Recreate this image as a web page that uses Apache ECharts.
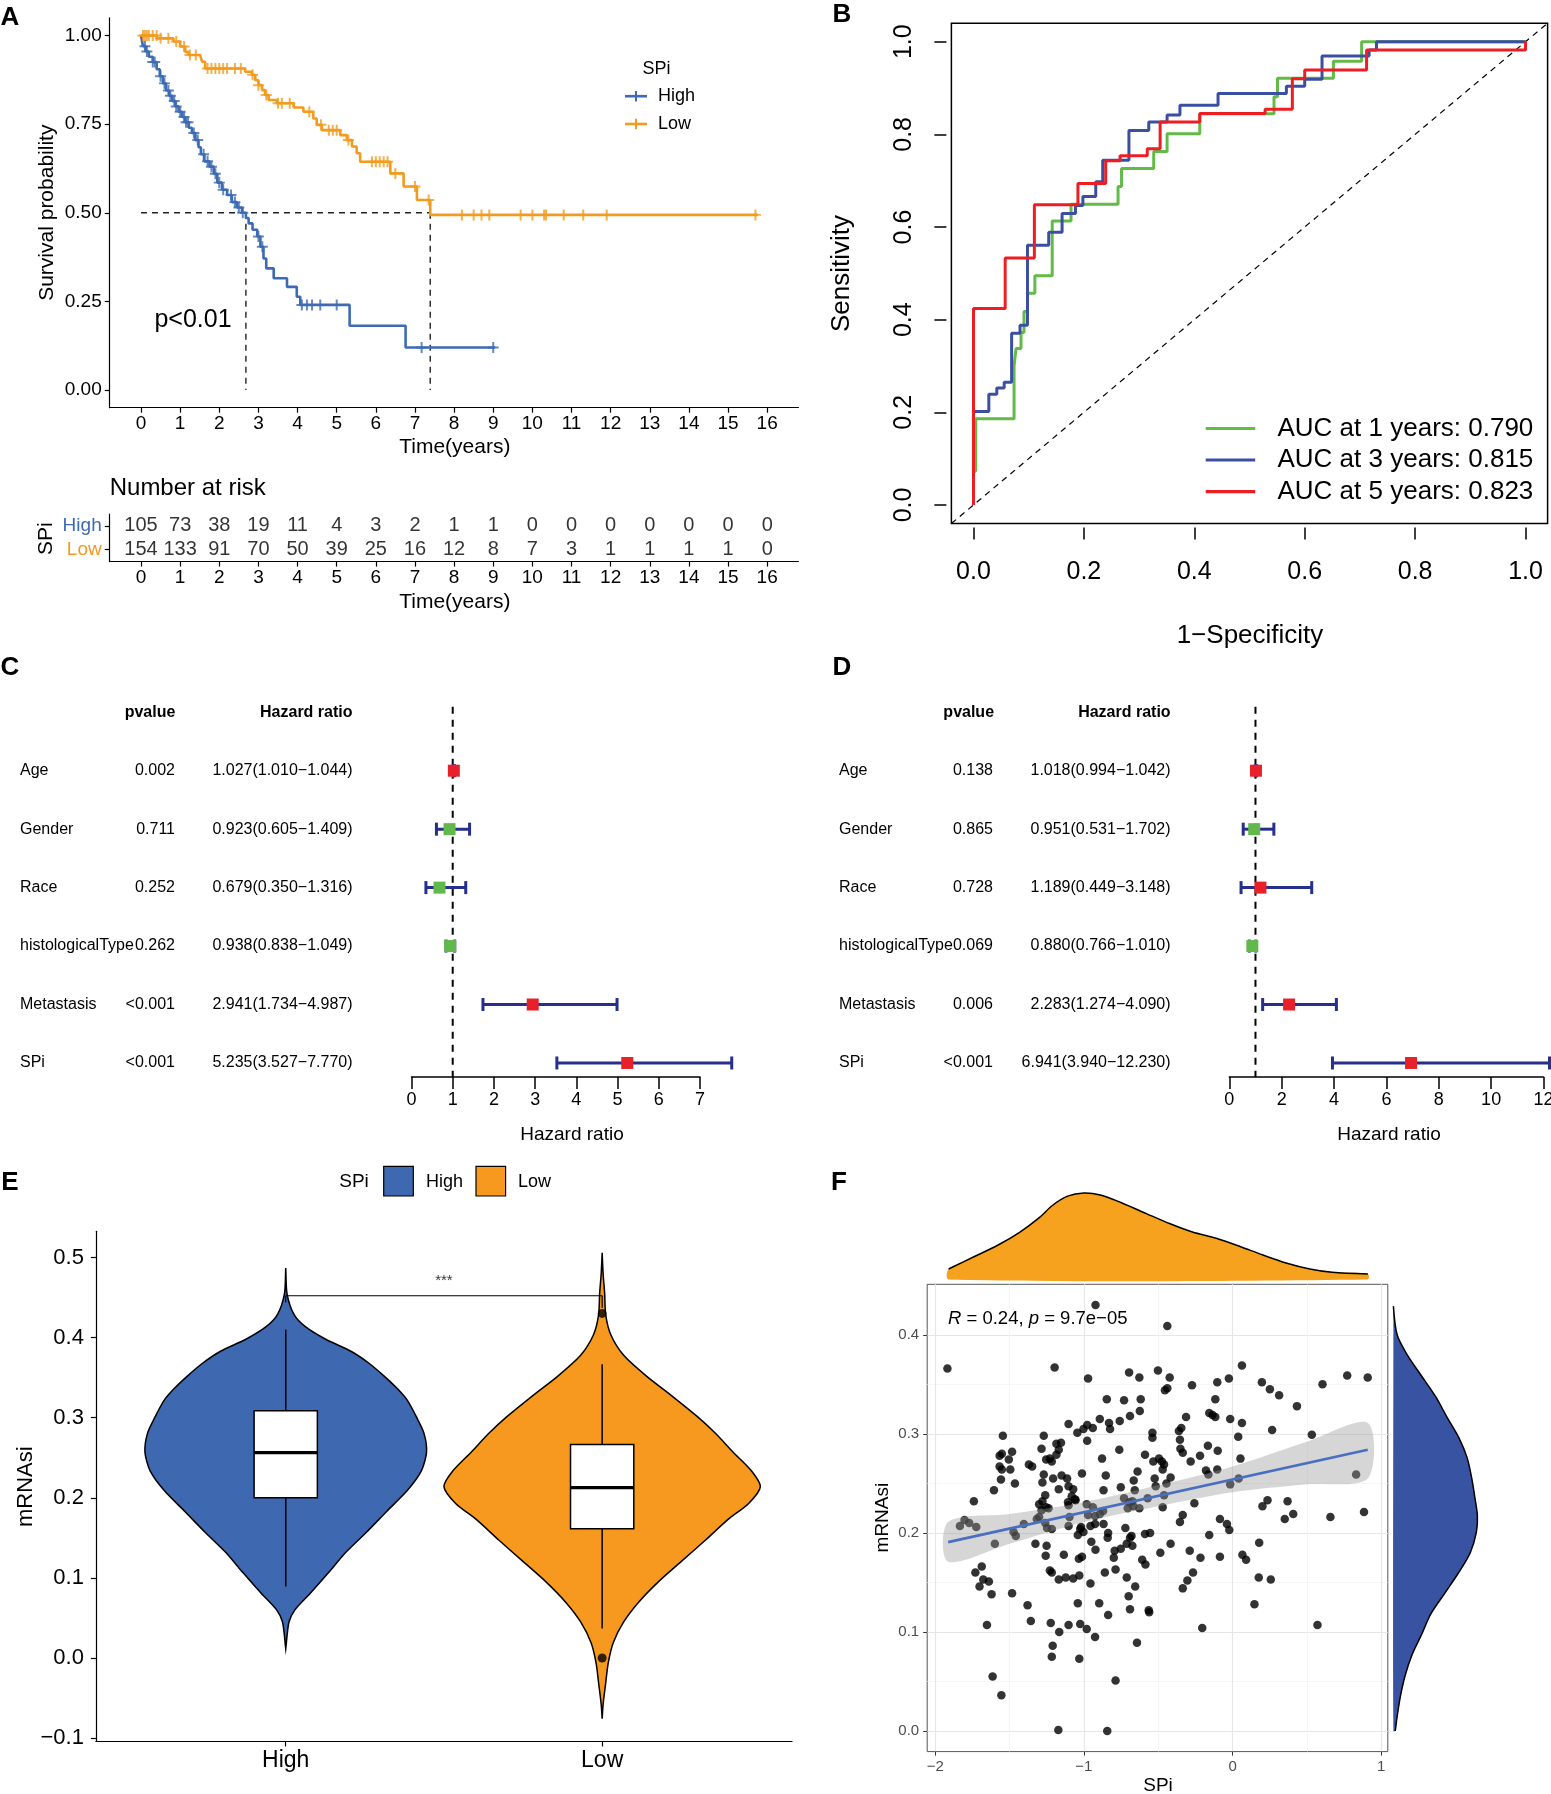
<!DOCTYPE html>
<html>
<head>
<meta charset="utf-8">
<title>SPi figure</title>
<script src="https://cdn.jsdelivr.net/npm/echarts@6/dist/echarts.min.js"></script>
<style>
html, body { margin: 0; padding: 0; background: #fff; }
#fig { width: 1551px; height: 1794px; }
</style>
</head>
<body>
<div id="fig"></div>
<script>
var FONT = '"Liberation Sans", Arial, Helvetica, sans-serif';
var BLUE = '#3D6BB3', ORANGE = '#F39B1F';
var NAVY = '#262F8C', RED = '#E8202A', GREEN = '#62B84A';
var PLUS = 'path://M0,4.1H10V5.9H0ZM4.1,0H5.9V10H4.1Z';

// ---- A: Kaplan-Meier ----
var kmHighT = [0, 0.05, 0.12, 0.2, 0.3, 0.4, 0.48, 0.56, 0.64, 0.72, 0.8, 0.88, 0.96, 1.05, 1.13, 1.22, 1.3, 1.39, 1.47, 1.53, 1.62, 1.75, 1.86, 1.95, 2.07, 2.2, 2.32, 2.45, 2.58, 2.68, 2.75, 2.85, 2.97, 3.05, 3.13, 3.2, 3.39, 3.73, 3.98, 4.07, 5.33, 6.76, 9.05];
var kmHighS = [1, 0.97, 0.955, 0.94, 0.925, 0.905, 0.885, 0.865, 0.845, 0.83, 0.815, 0.8, 0.785, 0.77, 0.755, 0.74, 0.725, 0.705, 0.685, 0.665, 0.645, 0.63, 0.61, 0.585, 0.565, 0.55, 0.53, 0.515, 0.5, 0.485, 0.47, 0.452, 0.433, 0.404, 0.371, 0.343, 0.315, 0.291, 0.263, 0.24, 0.181, 0.12, 0.12];
var kmLowT = [0, 0.41, 0.83, 1.0, 1.13, 1.21, 1.51, 1.56, 1.64, 2.66, 2.83, 2.92, 3.0, 3.09, 3.17, 3.26, 3.47, 3.9, 4.15, 4.4, 4.49, 4.62, 5.09, 5.26, 5.39, 5.51, 5.6, 6.37, 6.71, 7.05, 7.39, 15.76];
var kmLowS = [1, 0.992, 0.983, 0.969, 0.954, 0.945, 0.94, 0.926, 0.907, 0.898, 0.889, 0.874, 0.86, 0.846, 0.832, 0.818, 0.809, 0.797, 0.785, 0.766, 0.748, 0.733, 0.719, 0.705, 0.687, 0.668, 0.644, 0.611, 0.574, 0.536, 0.494, 0.494];
var censorHigh = [0.1, 0.15, 0.3, 0.35, 0.5, 0.6, 0.7, 0.75, 0.85, 0.9, 1.0, 1.1, 1.15, 1.2, 1.35, 1.45, 1.6, 1.7, 1.8, 1.9, 2.0, 2.1, 2.3, 2.4, 2.5, 2.6, 3.0, 3.1, 4.11, 4.24, 4.37, 4.58, 5.0, 7.17, 9.0];
var censorLow = [0.05, 0.1, 0.15, 0.2, 0.3, 0.4, 0.5, 0.7, 0.9, 1.1, 1.25, 1.4, 1.7, 1.8, 1.9, 2.0, 2.1, 2.2, 2.4, 2.55, 2.85, 3.0, 3.2, 3.5, 3.6, 3.8, 4.3, 4.6, 4.8, 4.9, 5.0, 5.3, 5.9, 6.0, 6.1, 6.2, 6.3, 6.5, 7.0, 7.35, 8.2, 8.5, 8.7, 8.9, 9.7, 10.0, 10.3, 10.35, 10.8, 11.3, 11.9, 15.7];
var medianHigh = 2.68, medianLow = 7.39;
var kmTicks = [0, 1, 2, 3, 4, 5, 6, 7, 8, 9, 10, 11, 12, 13, 14, 15, 16];
var survTicks = [0, 0.25, 0.5, 0.75, 1];
var riskHigh = [105, 73, 38, 19, 11, 4, 3, 2, 1, 1, 0, 0, 0, 0, 0, 0, 0];
var riskLow = [154, 133, 91, 70, 50, 39, 25, 16, 12, 8, 7, 3, 1, 1, 1, 1, 0];

// ---- B: time-dependent ROC ----
var roc1Fpr = [0, 0, 0.004, 0.0735, 0.0771, 0.0861, 0.0915, 0.0978, 0.1112, 0.1426, 0.1767, 0.2619, 0.2682, 0.3265, 0.3507, 0.4099, 0.5444, 0.5507, 0.652, 0.7031, 1.0];
var roc1Tpr = [0, 0.073, 0.186, 0.2997, 0.3379, 0.3724, 0.4178, 0.4569, 0.495, 0.6131, 0.6494, 0.6876, 0.7266, 0.763, 0.8011, 0.8447, 0.881, 0.921, 0.958, 1.0, 1.0];
var roc3Fpr = [0, 0, 0.0278, 0.0422, 0.0556, 0.0691, 0.0843, 0.0978, 0.1363, 0.1605, 0.1848, 0.1982, 0.2215, 0.2341, 0.2816, 0.3175, 0.3507, 0.374, 0.443, 0.5668, 0.6, 0.6314, 0.7166, 0.73, 1.0];
var roc3Tpr = [0, 0.2016, 0.2389, 0.2525, 0.265, 0.3706, 0.3878, 0.5604, 0.5886, 0.6294, 0.6467, 0.6658, 0.6975, 0.7439, 0.8084, 0.8265, 0.842, 0.8629, 0.8883, 0.9037, 0.9192, 0.9691, 0.982, 1.0, 1.0];
var roc5Fpr = [0, 0, 0.0574, 0.1103, 0.1892, 0.2395, 0.2655, 0.3148, 0.3381, 0.4099, 0.5283, 0.5776, 0.6, 0.7121, 1.0];
var roc5Tpr = [0, 0.424, 0.533, 0.648, 0.694, 0.743, 0.754, 0.769, 0.8265, 0.845, 0.854, 0.92, 0.939, 0.982, 1.0];
var rocTicks = [0, 0.2, 0.4, 0.6, 0.8, 1.0];
var rocLegend = ['AUC at 1 years: 0.790', 'AUC at 3 years: 0.815', 'AUC at 5 years: 0.823'];

// ---- C / D: Cox forest plots ----
var forestVars = ['Age', 'Gender', 'Race', 'histologicalType', 'Metastasis', 'SPi'];
var uniP = ['0.002', '0.711', '0.252', '0.262', '<0.001', '<0.001'];
var uniHR = [1.027, 0.923, 0.679, 0.938, 2.941, 5.235];
var uniLo = [1.010, 0.605, 0.350, 0.838, 1.734, 3.527];
var uniHi = [1.044, 1.409, 1.316, 1.049, 4.987, 7.770];
var multiP = ['0.138', '0.865', '0.728', '0.069', '0.006', '<0.001'];
var multiHR = [1.018, 0.951, 1.189, 0.880, 2.283, 6.941];
var multiLo = [0.994, 0.531, 0.449, 0.766, 1.274, 3.940];
var multiHi = [1.042, 1.702, 3.148, 1.010, 4.090, 12.230];

// ---- E: violin ----
var violinHighY = [0.487, 0.455, 0.429, 0.414, 0.398, 0.383, 0.368, 0.352, 0.337, 0.322, 0.301, 0.2805, 0.257, 0.234, 0.209, 0.183, 0.157, 0.132, 0.106, 0.0805, 0.060, 0.0446, 0.0113];
var violinHighW = [0, 0.004, 0.026, 0.061, 0.126, 0.206, 0.263, 0.311, 0.351, 0.384, 0.413, 0.437, 0.445, 0.429, 0.384, 0.319, 0.255, 0.19, 0.134, 0.077, 0.029, 0.01, 0];
var violinLowY = [0.506, 0.480, 0.455, 0.429, 0.404, 0.378, 0.352, 0.327, 0.301, 0.2805, 0.257, 0.234, 0.214, 0.193, 0.173, 0.147, 0.1215, 0.096, 0.070, 0.045, 0.019, -0.0067, -0.032, -0.058, -0.076];
var violinLowW = [0, 0.003, 0.008, 0.011, 0.027, 0.068, 0.14, 0.221, 0.302, 0.358, 0.414, 0.471, 0.5, 0.463, 0.398, 0.326, 0.253, 0.18, 0.116, 0.068, 0.035, 0.019, 0.011, 0.003, 0];
var boxHigh = [0.0892, 0.2, 0.2564, 0.3087, 0.41];
var boxLow = [0.0369, 0.1615, 0.2128, 0.2667, 0.3667];
var outlierLow = [0.4303, 0.0];
var mrnaTicks = [-0.1, 0, 0.1, 0.2, 0.3, 0.4, 0.5];

// ---- F: scatter with marginal densities ----
var spiX = [-1.918, -0.922, -0.439, -1.197, -0.972, -0.696, -0.627, -0.502, -0.423, -0.439, -0.455, -0.273, -0.103, -0.025, 0.063, 0.197, 0.251, 0.313, 0.433, 0.605, 0.771, 0.909, -0.846, -0.73, -0.618, -0.116, -0.624, -0.69, -0.759, -0.831, -0.824, -0.893, -0.94, -0.978, -1.003, -1.044, -0.978, -1.103, -0.313, -0.157, -0.135, -0.116, -0.016, 0.063, 0.266, 0.533, 0.038, -0.539, -0.539, -0.361, -0.345, -0.354, -0.351, -0.335, -0.166, -0.1, -0.219, -0.282, 0.053, -0.589, -0.762, -0.878, -0.495, -0.461, -0.47, -0.476, -0.533, -0.639, -0.417, -0.524, -0.517, -0.445, -0.461, -0.47, -0.571, -0.665, -0.658, -0.853, -0.868, -1.013, -1.103, -1.072, -1.06, -1.082, -1.113, -1.15, -1.207, -1.169, -1.27, -1.279, -1.26, -1.279, -1.301, -1.254, -1.238, -1.285, -1.301, -1.317, -1.248, -1.216, -1.26, -1.216, -1.254, -1.185, -1.169, -1.154, -1.185, -1.285, -1.27, -1.229, -1.348, -1.37, -1.567, -1.552, -1.483, -1.505, -1.495, -1.567, -1.552, -1.558, -1.464, -1.545, -1.605, -1.74, -1.803, -1.834, -1.771, -1.724, -1.404, -1.473, -1.458, -1.599, -1.326, -1.251, -1.257, -1.135, -1.73, -1.687, -1.677, -1.639, -1.702, -1.621, -1.483, -1.652, -1.379, -1.357, -1.229, -1.216, -1.122, -1.169, -1.072, -1.031, -1.223, -1.166, -1.21, -1.216, -1.103, -1.025, -0.981, -1.041, -1.031, -1.614, -1.555, -1.172, -0.843, -0.787, -0.925, -0.837, -0.897, -0.956, -0.859, -0.787, -0.69, -0.699, -0.712, -0.655, -0.643, -0.564, -0.561, -0.608, -0.586, -0.799, -0.793, -0.752, -0.712, -0.69, -0.674, -0.721, -0.68, -0.589, -0.555, -0.486, -0.417, -0.288, -0.216, -0.266, -0.304, -0.335, -0.204, -0.085, -0.157, -0.085, -0.038, -0.022, 0.066, 0.091, 0.179, 0.176, 0.257, 0.147, 0.571, 0.201, 0.235, 0.37, 0.408, 0.351, 0.658, 0.884, 0.831, 0.041, -0.016, -0.103, -0.179, -0.163, -0.257, -0.335, -0.354, -0.627, -0.674, -0.668, -0.705, -0.871, -0.893, -0.925, -0.972, -0.981, -0.94, -0.925, -0.868, -0.956, -1.019, -1.025, -1.003, -1.041, -0.95, -0.922, -0.837, -0.84, -1.097, -1.103, -1.103, -1.107, -1.056, -1.034, -1.013, -0.752, -0.73, -0.696];
var rnaY = [0.366, 0.43, 0.409, 0.367, 0.356, 0.362, 0.357, 0.364, 0.357, 0.346, 0.344, 0.349, 0.352, 0.356, 0.369, 0.352, 0.345, 0.339, 0.328, 0.35, 0.359, 0.357, 0.335, 0.334, 0.335, 0.335, 0.323, 0.318, 0.313, 0.311, 0.305, 0.315, 0.306, 0.309, 0.305, 0.301, 0.293, 0.31, 0.317, 0.321, 0.319, 0.317, 0.315, 0.311, 0.304, 0.299, 0.297, 0.301, 0.296, 0.303, 0.306, 0.294, 0.285, 0.281, 0.288, 0.283, 0.278, 0.272, 0.275, 0.279, 0.284, 0.275, 0.275, 0.269, 0.264, 0.272, 0.272, 0.262, 0.256, 0.255, 0.247, 0.25, 0.238, 0.226, 0.235, 0.253, 0.243, 0.258, 0.243, 0.26, 0.247, 0.244, 0.234, 0.237, 0.255, 0.258, 0.255, 0.244, 0.259, 0.251, 0.238, 0.232, 0.229, 0.226, 0.225, 0.223, 0.216, 0.214, 0.205, 0.204, 0.21, 0.272, 0.274, 0.279, 0.284, 0.291, 0.29, 0.285, 0.298, 0.275, 0.267, 0.269, 0.278, 0.28, 0.282, 0.274, 0.264, 0.267, 0.264, 0.254, 0.25, 0.298, 0.243, 0.232, 0.213, 0.207, 0.21, 0.206, 0.209, 0.201, 0.197, 0.189, 0.189, 0.187, 0.177, 0.178, 0.16, 0.166, 0.153, 0.151, 0.146, 0.138, 0.139, 0.107, 0.127, 0.111, 0.162, 0.16, 0.155, 0.153, 0.154, 0.157, 0.109, 0.1, 0.086, 0.075, 0.107, 0.108, 0.103, 0.129, 0.073, 0.055, 0.036, 0.001, 0.0, 0.051, 0.095, 0.117, 0.129, 0.149, 0.16, 0.163, 0.123, 0.136, 0.155, 0.146, 0.089, 0.122, 0.12, 0.173, 0.168, 0.175, 0.182, 0.184, 0.189, 0.195, 0.187, 0.205, 0.197, 0.199, 0.2, 0.18, 0.189, 0.182, 0.175, 0.16, 0.152, 0.144, 0.104, 0.176, 0.198, 0.214, 0.209, 0.203, 0.178, 0.173, 0.19, 0.155, 0.153, 0.128, 0.107, 0.227, 0.233, 0.232, 0.219, 0.214, 0.216, 0.221, 0.259, 0.255, 0.249, 0.264, 0.263, 0.259, 0.23, 0.218, 0.211, 0.225, 0.232, 0.227, 0.225, 0.222, 0.219, 0.217, 0.218, 0.229, 0.226, 0.209, 0.209, 0.207, 0.206, 0.204, 0.201, 0.198, 0.191, 0.183, 0.2, 0.195, 0.216, 0.207, 0.228, 0.231, 0.233, 0.174, 0.176, 0.246, 0.235, 0.231];
var regX = [-1.913, 0.909];
var regY = [0.1907, 0.284];
var bandX = [-1.913, -1.5, -1.0, -0.5, 0, 0.5, 0.909];
var bandLo = [0.171, 0.189, 0.211, 0.227, 0.241, 0.249, 0.255];
var bandHi = [0.211, 0.219, 0.231, 0.248, 0.267, 0.292, 0.311];
var topX = [-1.91, -1.74, -1.58, -1.43, -1.3, -1.21, -1.11, -1.0, -0.89, -0.74, -0.58, -0.42, -0.27, -0.11, 0.05, 0.2, 0.36, 0.52, 0.67, 0.91];
var topD = [0.072, 0.157, 0.237, 0.329, 0.429, 0.515, 0.578, 0.6, 0.586, 0.529, 0.457, 0.386, 0.329, 0.286, 0.229, 0.171, 0.114, 0.072, 0.049, 0.037];
var rightY = [0.429, 0.4, 0.3795, 0.3587, 0.338, 0.317, 0.2965, 0.276, 0.255, 0.234, 0.2177, 0.201, 0.18, 0.16, 0.139, 0.118, 0.097, 0.077, 0.056, 0.035, 0.0144, 0.0];
var rightD = [0, 0.2, 0.75, 1.5, 2.25, 2.87, 3.5, 3.95, 4.2, 4.38, 4.5, 4.45, 4.12, 3.5, 2.75, 2.0, 1.5, 1.0, 0.63, 0.375, 0.2, 0.1];

function zip(a, b) { return a.map(function (v, i) { return [v, b[i]]; }); }
function survAt(T, S, t) {
  var s = S[0];
  for (var i = 0; i < T.length; i++) { if (T[i] <= t) s = S[i]; }
  return s;
}
function minus(v) { return String(v).replace('-', '\u2212'); }
function hrText(hr, lo, hi) { return hr.toFixed(3) + '(' + lo.toFixed(3) + '\u2212' + hi.toFixed(3) + ')'; }

function txt(s, x, y, o) {
  o = o || {};
  var st = { text: s, fontSize: o.size || 18, fontFamily: FONT, fontWeight: o.bold ? 'bold' : 'normal',
    fill: o.color || '#000', textAlign: o.align || 'center', textVerticalAlign: 'middle', verticalAlign: 'middle' };
  if (o.rich) st.rich = o.rich;
  return { type: 'text', x: x, y: y, rotation: o.rot || 0, z: 10, style: st };
}
function seg(x1, y1, x2, y2, color, w) {
  return { type: 'line', z: 10, shape: { x1: x1, y1: y1, x2: x2, y2: y2 }, style: { stroke: color, lineWidth: w } };
}

// every axis sits on the grid edge, never on zero
var blackLine = { show: true, onZero: false, lineStyle: { color: '#000', width: 1.2 } };
var noLine = { show: false, onZero: false };
var noAxis = { show: false };
function tickStyle(len, vals, w) {
  var t = { show: true, length: len, lineStyle: { color: '#000', width: w || 1.2 } };
  if (vals) t.customValues = vals;
  return t;
}
function labelStyle(size, margin, vals, fmt) {
  var l = { color: '#000', fontSize: size, fontFamily: FONT, margin: margin };
  if (vals) l.customValues = vals;
  if (fmt) l.formatter = fmt;
  return l;
}

function forestRender(names, pvals, nameX, pX, hrX) {
  return function (params, api) {
    var i = params.dataIndex;
    var hr = api.value(0), lo = api.value(1), hi = api.value(2), row = api.value(3);
    var c = api.coord([hr, row]), a = api.coord([lo, row]), b = api.coord([hi, row]);
    var y = c[1];
    var ci = { stroke: NAVY, lineWidth: 3 };
    function t(s, x, align) {
      return { type: 'text', x: x, y: y, style: { text: s, fontSize: 16, fontFamily: FONT, fill: '#000', textAlign: align, textVerticalAlign: 'middle', verticalAlign: 'middle' } };
    }
    return { type: 'group', children: [
      { type: 'line', shape: { x1: a[0], y1: y, x2: b[0], y2: y }, style: ci },
      { type: 'line', shape: { x1: a[0], y1: y - 6.5, x2: a[0], y2: y + 6.5 }, style: ci },
      { type: 'line', shape: { x1: b[0], y1: y - 6.5, x2: b[0], y2: y + 6.5 }, style: ci },
      { type: 'rect', shape: { x: c[0] - 6, y: y - 6, width: 12, height: 12 }, style: { fill: hr > 1 ? RED : GREEN } },
      t(names[i], nameX, 'left'),
      t(pvals[i], pX, 'right'),
      t(hrText(hr, lo, hi), hrX, 'right')
    ] };
  };
}

var violins = [
  { y: violinHighY, w: violinHighW, color: '#3E68B0' },
  { y: violinLowY, w: violinLowW, color: '#F7991E' }
];
var boxes = [boxHigh, boxLow];

function violinRender(params, api) {
  var v = violins[params.dataIndex], cx = api.value(0);
  var right = v.y.map(function (y, j) { return api.coord([cx + v.w[j], y]); });
  var left = v.y.map(function (y, j) { return api.coord([cx - v.w[j], y]); }).reverse();
  return { type: 'polygon', shape: { points: right.concat(left), smooth: 0.25 },
    style: { fill: v.color, stroke: '#000', lineWidth: 1.5 } };
}
function boxRender(params, api) {
  var q = boxes[params.dataIndex], cx = api.value(0);
  var w0 = api.coord([cx, q[0]]), q1 = api.coord([cx - 0.1, q[1]]), q3 = api.coord([cx + 0.1, q[3]]);
  var md = api.coord([cx - 0.1, q[2]]), mdR = api.coord([cx + 0.1, q[2]]);
  var w4 = api.coord([cx, q[4]]);
  var st = { stroke: '#000', lineWidth: 1.5 };
  return { type: 'group', children: [
    { type: 'line', shape: { x1: w0[0], y1: w0[1], x2: w0[0], y2: q1[1] }, style: st },
    { type: 'line', shape: { x1: w4[0], y1: w4[1], x2: w4[0], y2: q3[1] }, style: st },
    { type: 'rect', shape: { x: q1[0], y: q3[1], width: q3[0] - q1[0], height: q1[1] - q3[1] }, style: { fill: '#fff', stroke: '#000', lineWidth: 1.5 } },
    { type: 'line', shape: { x1: md[0], y1: md[1], x2: mdR[0], y2: md[1] }, style: { stroke: '#000', lineWidth: 3.2 } }
  ] };
}
function bandRender(params, api) {
  var hiPts = bandX.map(function (x, j) { return api.coord([x, bandHi[j]]); });
  var loPts = bandX.map(function (x, j) { return api.coord([x, bandLo[j]]); }).reverse();
  return { type: 'polygon', shape: { points: hiPts.concat(loPts), smooth: 0.3 }, style: { fill: 'rgba(153,153,153,0.4)' } };
}
function topDensRender(params, api) {
  var pts = topX.map(function (x, j) { return api.coord([x, topD[j]]); });
  var poly = [api.coord([topX[0], 0])].concat(pts, [api.coord([topX[topX.length - 1], 0])]);
  return { type: 'group', children: [
    { type: 'polygon', shape: { points: poly, smooth: 0.3 }, style: { fill: '#F7A21E' } },
    { type: 'polyline', shape: { points: pts, smooth: 0.3 }, style: { stroke: '#000', lineWidth: 1.5, fill: null } }
  ] };
}
function rightDensRender(params, api) {
  var pts = rightY.map(function (y, j) { return api.coord([rightD[j], y]); });
  var poly = [api.coord([0, rightY[0]])].concat(pts, [api.coord([0, rightY[rightY.length - 1]])]);
  return { type: 'group', children: [
    { type: 'polygon', shape: { points: poly, smooth: 0.3 }, style: { fill: '#3953A3' } },
    { type: 'polyline', shape: { points: pts, smooth: 0.3 }, style: { stroke: '#000', lineWidth: 1.5, fill: null } }
  ] };
}

var chart = echarts.init(document.getElementById('fig'), null, { renderer: 'canvas' });

var series = [];

// A: curves
series.push({ type: 'line', xAxisIndex: 0, yAxisIndex: 0, step: 'end', data: zip(kmHighT, kmHighS), symbol: 'none', lineStyle: { color: BLUE, width: 2.6 }, itemStyle: { color: BLUE }, z: 3 });
series.push({ type: 'line', xAxisIndex: 0, yAxisIndex: 0, step: 'end', data: zip(kmLowT, kmLowS), symbol: 'none', lineStyle: { color: ORANGE, width: 2.6 }, itemStyle: { color: ORANGE }, z: 3 });
series.push({ type: 'scatter', xAxisIndex: 0, yAxisIndex: 0, symbol: PLUS, symbolSize: 11, itemStyle: { color: BLUE }, z: 4,
  data: censorHigh.map(function (t) { return [t, survAt(kmHighT, kmHighS, t)]; }) });
series.push({ type: 'scatter', xAxisIndex: 0, yAxisIndex: 0, symbol: PLUS, symbolSize: 11, itemStyle: { color: ORANGE }, z: 4,
  data: censorLow.map(function (t) { return [t, survAt(kmLowT, kmLowS, t)]; }) });
[[[0, 0.5], [medianLow, 0.5]], [[medianHigh, 0.5], [medianHigh, 0]], [[medianLow, 0.5], [medianLow, 0]]].forEach(function (d) {
  series.push({ type: 'line', xAxisIndex: 0, yAxisIndex: 0, data: d, symbol: 'none', lineStyle: { color: '#222', width: 1.4, type: [6, 5] }, z: 2 });
});
// A: risk table
[[riskHigh, 1], [riskLow, 0]].forEach(function (r) {
  series.push({ type: 'scatter', xAxisIndex: 1, yAxisIndex: 1, symbolSize: 1, itemStyle: { color: 'transparent' },
    data: kmTicks.map(function (t, i) { return [t, r[1], r[0][i]]; }),
    label: { show: true, position: 'inside', formatter: function (p) { return String(p.value[2]); }, fontSize: 20, color: '#000', fontFamily: FONT } });
});

// B: ROC
[[roc1Fpr, roc1Tpr, '#62BB47'], [roc3Fpr, roc3Tpr, '#3B4FA2'], [roc5Fpr, roc5Tpr, '#EE1D23']].forEach(function (r) {
  series.push({ type: 'line', xAxisIndex: 2, yAxisIndex: 2, step: 'end', data: zip(r[0], r[1]), symbol: 'none', lineStyle: { color: r[2], width: 3 }, z: 3 });
});
series.push({ type: 'line', xAxisIndex: 2, yAxisIndex: 2, data: [[-0.04, -0.04], [1.04, 1.04]], symbol: 'none', lineStyle: { color: '#000', width: 1.2, type: [6, 5] }, z: 2 });

// C, D: forest
series.push({ type: 'line', xAxisIndex: 3, yAxisIndex: 3, data: [[1, -0.095], [1, 6.24]], symbol: 'none', lineStyle: { color: '#000', width: 2, type: [7, 6] }, z: 2 });
series.push({ type: 'custom', xAxisIndex: 3, yAxisIndex: 3, z: 3,
  renderItem: forestRender(forestVars, uniP, 20, 175, 352.5),
  data: forestVars.map(function (v, i) { return [uniHR[i], uniLo[i], uniHi[i], i + 1]; }) });
series.push({ type: 'line', xAxisIndex: 4, yAxisIndex: 4, data: [[1, -0.095], [1, 6.24]], symbol: 'none', lineStyle: { color: '#000', width: 2, type: [7, 6] }, z: 2 });
series.push({ type: 'custom', xAxisIndex: 4, yAxisIndex: 4, z: 3,
  renderItem: forestRender(forestVars, multiP, 839, 993, 1170.6),
  data: forestVars.map(function (v, i) { return [multiHR[i], multiLo[i], multiHi[i], i + 1]; }) });

// E: violins
series.push({ type: 'custom', xAxisIndex: 5, yAxisIndex: 5, z: 2, renderItem: violinRender, data: [[1, 0.25], [2, 0.2]] });
series.push({ type: 'custom', xAxisIndex: 5, yAxisIndex: 5, z: 3, renderItem: boxRender, data: [[1, boxHigh[2]], [2, boxLow[2]]] });
series.push({ type: 'scatter', xAxisIndex: 5, yAxisIndex: 5, z: 4, symbolSize: 9, itemStyle: { color: '#000' },
  data: outlierLow.map(function (v) { return [2, v]; }) });
series.push({ type: 'line', xAxisIndex: 5, yAxisIndex: 5, z: 4, symbol: 'none', lineStyle: { color: '#000', width: 1.2 },
  data: [[1, 0.444], [1, 0.4523], [2, 0.4523], [2, 0.437]] });
series.push({ type: 'scatter', xAxisIndex: 5, yAxisIndex: 5, z: 4, symbolSize: 1, itemStyle: { color: 'transparent' },
  data: [[1.5, 0.471]], label: { show: true, position: 'inside', formatter: '***', fontSize: 15, color: '#000', fontFamily: FONT } });

// F: scatter + smooth
series.push({ type: 'scatter', xAxisIndex: 6, yAxisIndex: 6, z: 2, symbolSize: 8.5, itemStyle: { color: '#000' }, data: zip(spiX, rnaY) });
series.push({ type: 'custom', xAxisIndex: 6, yAxisIndex: 6, z: 3, renderItem: bandRender, data: [[0, 0.25]] });
series.push({ type: 'line', xAxisIndex: 6, yAxisIndex: 6, z: 4, symbol: 'none', lineStyle: { color: '#4A6FC1', width: 2.6 }, data: zip(regX, regY) });
series.push({ type: 'custom', xAxisIndex: 8, yAxisIndex: 8, z: 2, renderItem: topDensRender, data: [[0, 0.3]] });
series.push({ type: 'custom', xAxisIndex: 9, yAxisIndex: 9, z: 2, renderItem: rightDensRender, data: [[1, 0.2]] });

var grayLabel = { color: '#4D4D4D', fontSize: 15, fontFamily: FONT, margin: 8 };

var option = {
  animation: false,
  backgroundColor: '#fff',
  textStyle: { fontFamily: FONT },
  grid: [
    { left: 109.7, top: 17.8, width: 688.8, height: 389.9, containLabel: false, outerBoundsMode: 'none' },
    { left: 109.7, top: 514, width: 688.8, height: 47.6, containLabel: false, outerBoundsMode: 'none' },
    { left: 951.4, top: 23.2, width: 596.2, height: 500.3, show: true, borderColor: '#000', borderWidth: 1.5, backgroundColor: 'transparent', containLabel: false, outerBoundsMode: 'none' },
    { left: 411.5, top: 706.7, width: 288.5, height: 370.3, containLabel: false, outerBoundsMode: 'none' },
    { left: 1229.3, top: 706.7, width: 314.2, height: 370.3, containLabel: false, outerBoundsMode: 'none' },
    { left: 95.9, top: 1231.3, width: 696.1, height: 510.1, containLabel: false, outerBoundsMode: 'none' },
    { left: 927.2, top: 1284.3, width: 460.6, height: 467.3, show: true, borderColor: '#555', borderWidth: 1, backgroundColor: 'transparent', containLabel: false, outerBoundsMode: 'none' },
    { left: 927.2, top: 1193, width: 460.6, height: 86.4, containLabel: false, outerBoundsMode: 'none' },
    { left: 1393.4, top: 1284.3, width: 100, height: 467.3, containLabel: false, outerBoundsMode: 'none' }
  ],
  xAxis: [
    { gridIndex: 0, type: 'value', min: -0.8, max: 16.8, splitLine: noAxis, axisLine: blackLine, axisTick: tickStyle(5, kmTicks), axisLabel: labelStyle(19, 7, kmTicks) },
    { gridIndex: 1, type: 'value', min: -0.8, max: 16.8, splitLine: noAxis, axisLine: blackLine, axisTick: tickStyle(5, kmTicks), axisLabel: labelStyle(19, 7, kmTicks) },
    { gridIndex: 2, type: 'value', min: -0.04, max: 1.04, offset: 4, splitLine: noAxis, axisLine: noLine, axisTick: tickStyle(12, rocTicks, 1.5), axisLabel: labelStyle(25, 32, rocTicks, function (v) { return v.toFixed(1); }) },
    { gridIndex: 3, type: 'value', min: 0, max: 7, interval: 1, splitLine: noAxis, axisLine: { show: true, onZero: false, lineStyle: { color: '#000', width: 1.5 } }, axisTick: tickStyle(12, null, 1.5), axisLabel: labelStyle(18, 14) },
    { gridIndex: 4, type: 'value', min: 0, max: 12, interval: 2, splitLine: noAxis, axisLine: { show: true, onZero: false, lineStyle: { color: '#000', width: 1.5 } }, axisTick: tickStyle(12, null, 1.5), axisLabel: labelStyle(18, 14) },
    { gridIndex: 5, type: 'value', min: 0.4, max: 2.6, splitLine: noAxis, axisLine: blackLine, axisTick: tickStyle(5, [1, 2]), axisLabel: labelStyle(23, 8, [1, 2], function (v) { return v === 1 ? 'High' : 'Low'; }) },
    { gridIndex: 6, type: 'value', min: -2.054, max: 1.044, axisLine: noLine,
      axisTick: { show: true, length: 4, customValues: [-2, -1, 0, 1], lineStyle: { color: '#333', width: 1 } },
      axisLabel: Object.assign({ customValues: [-2, -1, 0, 1], formatter: minus }, grayLabel),
      splitLine: { show: true, lineStyle: { color: '#E6E6E6', width: 1.2 } } },
    { gridIndex: 6, type: 'value', position: 'bottom', min: -2.054, max: 1.044, axisLine: noLine, axisLabel: noAxis,
      axisTick: { show: false, customValues: [-1.5, -0.5, 0.5] },
      splitLine: { show: true, lineStyle: { color: '#F2F2F2', width: 0.7 } } },
    { gridIndex: 7, type: 'value', min: -2.054, max: 1.044, show: false, axisLine: noLine },
    { gridIndex: 8, type: 'value', min: 0, max: 5.36, show: false, axisLine: noLine }
  ],
  yAxis: [
    { gridIndex: 0, type: 'value', min: -0.05, max: 1.05, splitLine: noAxis, axisLine: blackLine, axisTick: tickStyle(5, survTicks), axisLabel: labelStyle(19, 8, survTicks, function (v) { return v.toFixed(2); }) },
    { gridIndex: 1, type: 'category', data: ['Low', 'High'], splitLine: noAxis, axisLine: blackLine,
      axisTick: { show: true, alignWithLabel: true, length: 5, lineStyle: { color: '#000', width: 1.2 } },
      axisLabel: { interval: 0, fontSize: 19, fontFamily: FONT, margin: 8, color: function (v) { return v === 'High' ? BLUE : ORANGE; } } },
    { gridIndex: 2, type: 'value', min: -0.04, max: 1.04, offset: 5, splitLine: noAxis, axisLine: noLine, axisTick: tickStyle(12, rocTicks, 1.5), axisLabel: Object.assign(labelStyle(25, 30, rocTicks, function (v) { return v.toFixed(1); }), { rotate: 90 }) },
    { gridIndex: 3, type: 'value', min: -0.095, max: 6.24, inverse: true, show: false, axisLine: noLine },
    { gridIndex: 4, type: 'value', min: -0.095, max: 6.24, inverse: true, show: false, axisLine: noLine },
    { gridIndex: 5, type: 'value', min: -0.1042, max: 0.5328, splitLine: noAxis, axisLine: blackLine, axisTick: tickStyle(5, mrnaTicks), axisLabel: labelStyle(22, 12, mrnaTicks, function (v) { return minus(v.toFixed(1)); }) },
    { gridIndex: 6, type: 'value', min: -0.0208, max: 0.451, axisLine: noLine,
      axisTick: { show: true, length: 4, customValues: [0, 0.1, 0.2, 0.3, 0.4], lineStyle: { color: '#333', width: 1 } },
      axisLabel: Object.assign({ customValues: [0, 0.1, 0.2, 0.3, 0.4], formatter: function (v) { return v.toFixed(1); } }, grayLabel),
      splitLine: { show: true, lineStyle: { color: '#E6E6E6', width: 1.2 } } },
    { gridIndex: 6, type: 'value', position: 'left', min: -0.0208, max: 0.451, axisLine: noLine, axisLabel: noAxis,
      axisTick: { show: false, customValues: [0.05, 0.15, 0.25, 0.35] },
      splitLine: { show: true, lineStyle: { color: '#F2F2F2', width: 0.7 } } },
    { gridIndex: 7, type: 'value', min: 0, max: 0.6, show: false, axisLine: noLine },
    { gridIndex: 8, type: 'value', min: -0.0208, max: 0.451, show: false, axisLine: noLine }
  ],
  series: series,
  graphic: { elements: [
    // panel letters
    txt('A', 10, 18, { size: 26, bold: true }),
    txt('B', 842, 15, { size: 26, bold: true }),
    txt('C', 10, 668, { size: 26, bold: true }),
    txt('D', 842, 668, { size: 26, bold: true }),
    txt('E', 10, 1183, { size: 26, bold: true }),
    txt('F', 839, 1183, { size: 26, bold: true }),
    // A
    txt('Survival probability', 47, 212.7, { size: 21, rot: Math.PI / 2 }),
    txt('Time(years)', 454.8, 447.5, { size: 21 }),
    txt('p<0.01', 193, 320, { size: 25 }),
    txt('SPi', 656.6, 69.3, { size: 18 }),
    seg(625, 96.2, 647, 96.2, BLUE, 2.6), seg(636, 91, 636, 101.4, BLUE, 2),
    txt('High', 658, 96.2, { size: 18, align: 'left' }),
    seg(625, 124, 647, 124, ORANGE, 2.6), seg(636, 118.8, 636, 129.2, ORANGE, 2),
    txt('Low', 658, 124, { size: 18, align: 'left' }),
    txt('Number at risk', 109.7, 488, { size: 24, align: 'left' }),
    txt('SPi', 46, 538.6, { size: 21, rot: Math.PI / 2 }),
    txt('Time(years)', 454.8, 602, { size: 21 }),
    // B
    txt('Sensitivity', 841.8, 273.6, { size: 26, rot: Math.PI / 2 }),
    txt('1\u2212Specificity', 1250, 635.5, { size: 26 }),
    seg(1205.7, 428.5, 1255.2, 428.5, '#62BB47', 3.2),
    seg(1205.7, 460, 1255.2, 460, '#3B4FA2', 3.2),
    seg(1205.7, 491.6, 1255.2, 491.6, '#EE1D23', 3.2),
    txt(rocLegend[0], 1277.5, 428.5, { size: 26, align: 'left' }),
    txt(rocLegend[1], 1277.5, 460, { size: 26, align: 'left' }),
    txt(rocLegend[2], 1277.5, 491.6, { size: 26, align: 'left' }),
    // C, D headers
    txt('pvalue', 150, 713, { size: 16, bold: true }),
    txt('Hazard ratio', 352.5, 713, { size: 16, bold: true, align: 'right' }),
    txt('Hazard ratio', 572, 1135, { size: 19 }),
    txt('pvalue', 968.7, 713, { size: 16, bold: true }),
    txt('Hazard ratio', 1170.6, 713, { size: 16, bold: true, align: 'right' }),
    txt('Hazard ratio', 1389, 1135, { size: 19 }),
    // E
    txt('SPi', 354, 1182, { size: 19 }),
    { type: 'rect', z: 10, shape: { x: 383.7, y: 1166.4, width: 29.6, height: 29.6 }, style: { fill: '#3E68B0', stroke: '#000', lineWidth: 1.2 } },
    txt('High', 426, 1182, { size: 18, align: 'left' }),
    { type: 'rect', z: 10, shape: { x: 476, y: 1166.4, width: 29.6, height: 29.6 }, style: { fill: '#F7991E', stroke: '#000', lineWidth: 1.2 } },
    txt('Low', 518, 1182, { size: 18, align: 'left' }),
    txt('mRNAsi', 25.5, 1486.7, { size: 22, rot: Math.PI / 2 }),
    // F
    txt('SPi', 1158, 1786, { size: 19 }),
    txt('mRNAsi', 883, 1517.6, { size: 19, rot: Math.PI / 2 }),
    txt('{i|R} = 0.24, {i|p} = 9.7e\u221205', 948, 1319, { size: 18.5, align: 'left', rich: { i: { fontStyle: 'italic', fontSize: 18.5, fontFamily: FONT } } })
  ] }
};

chart.setOption(option);
</script>
</body>
</html>
